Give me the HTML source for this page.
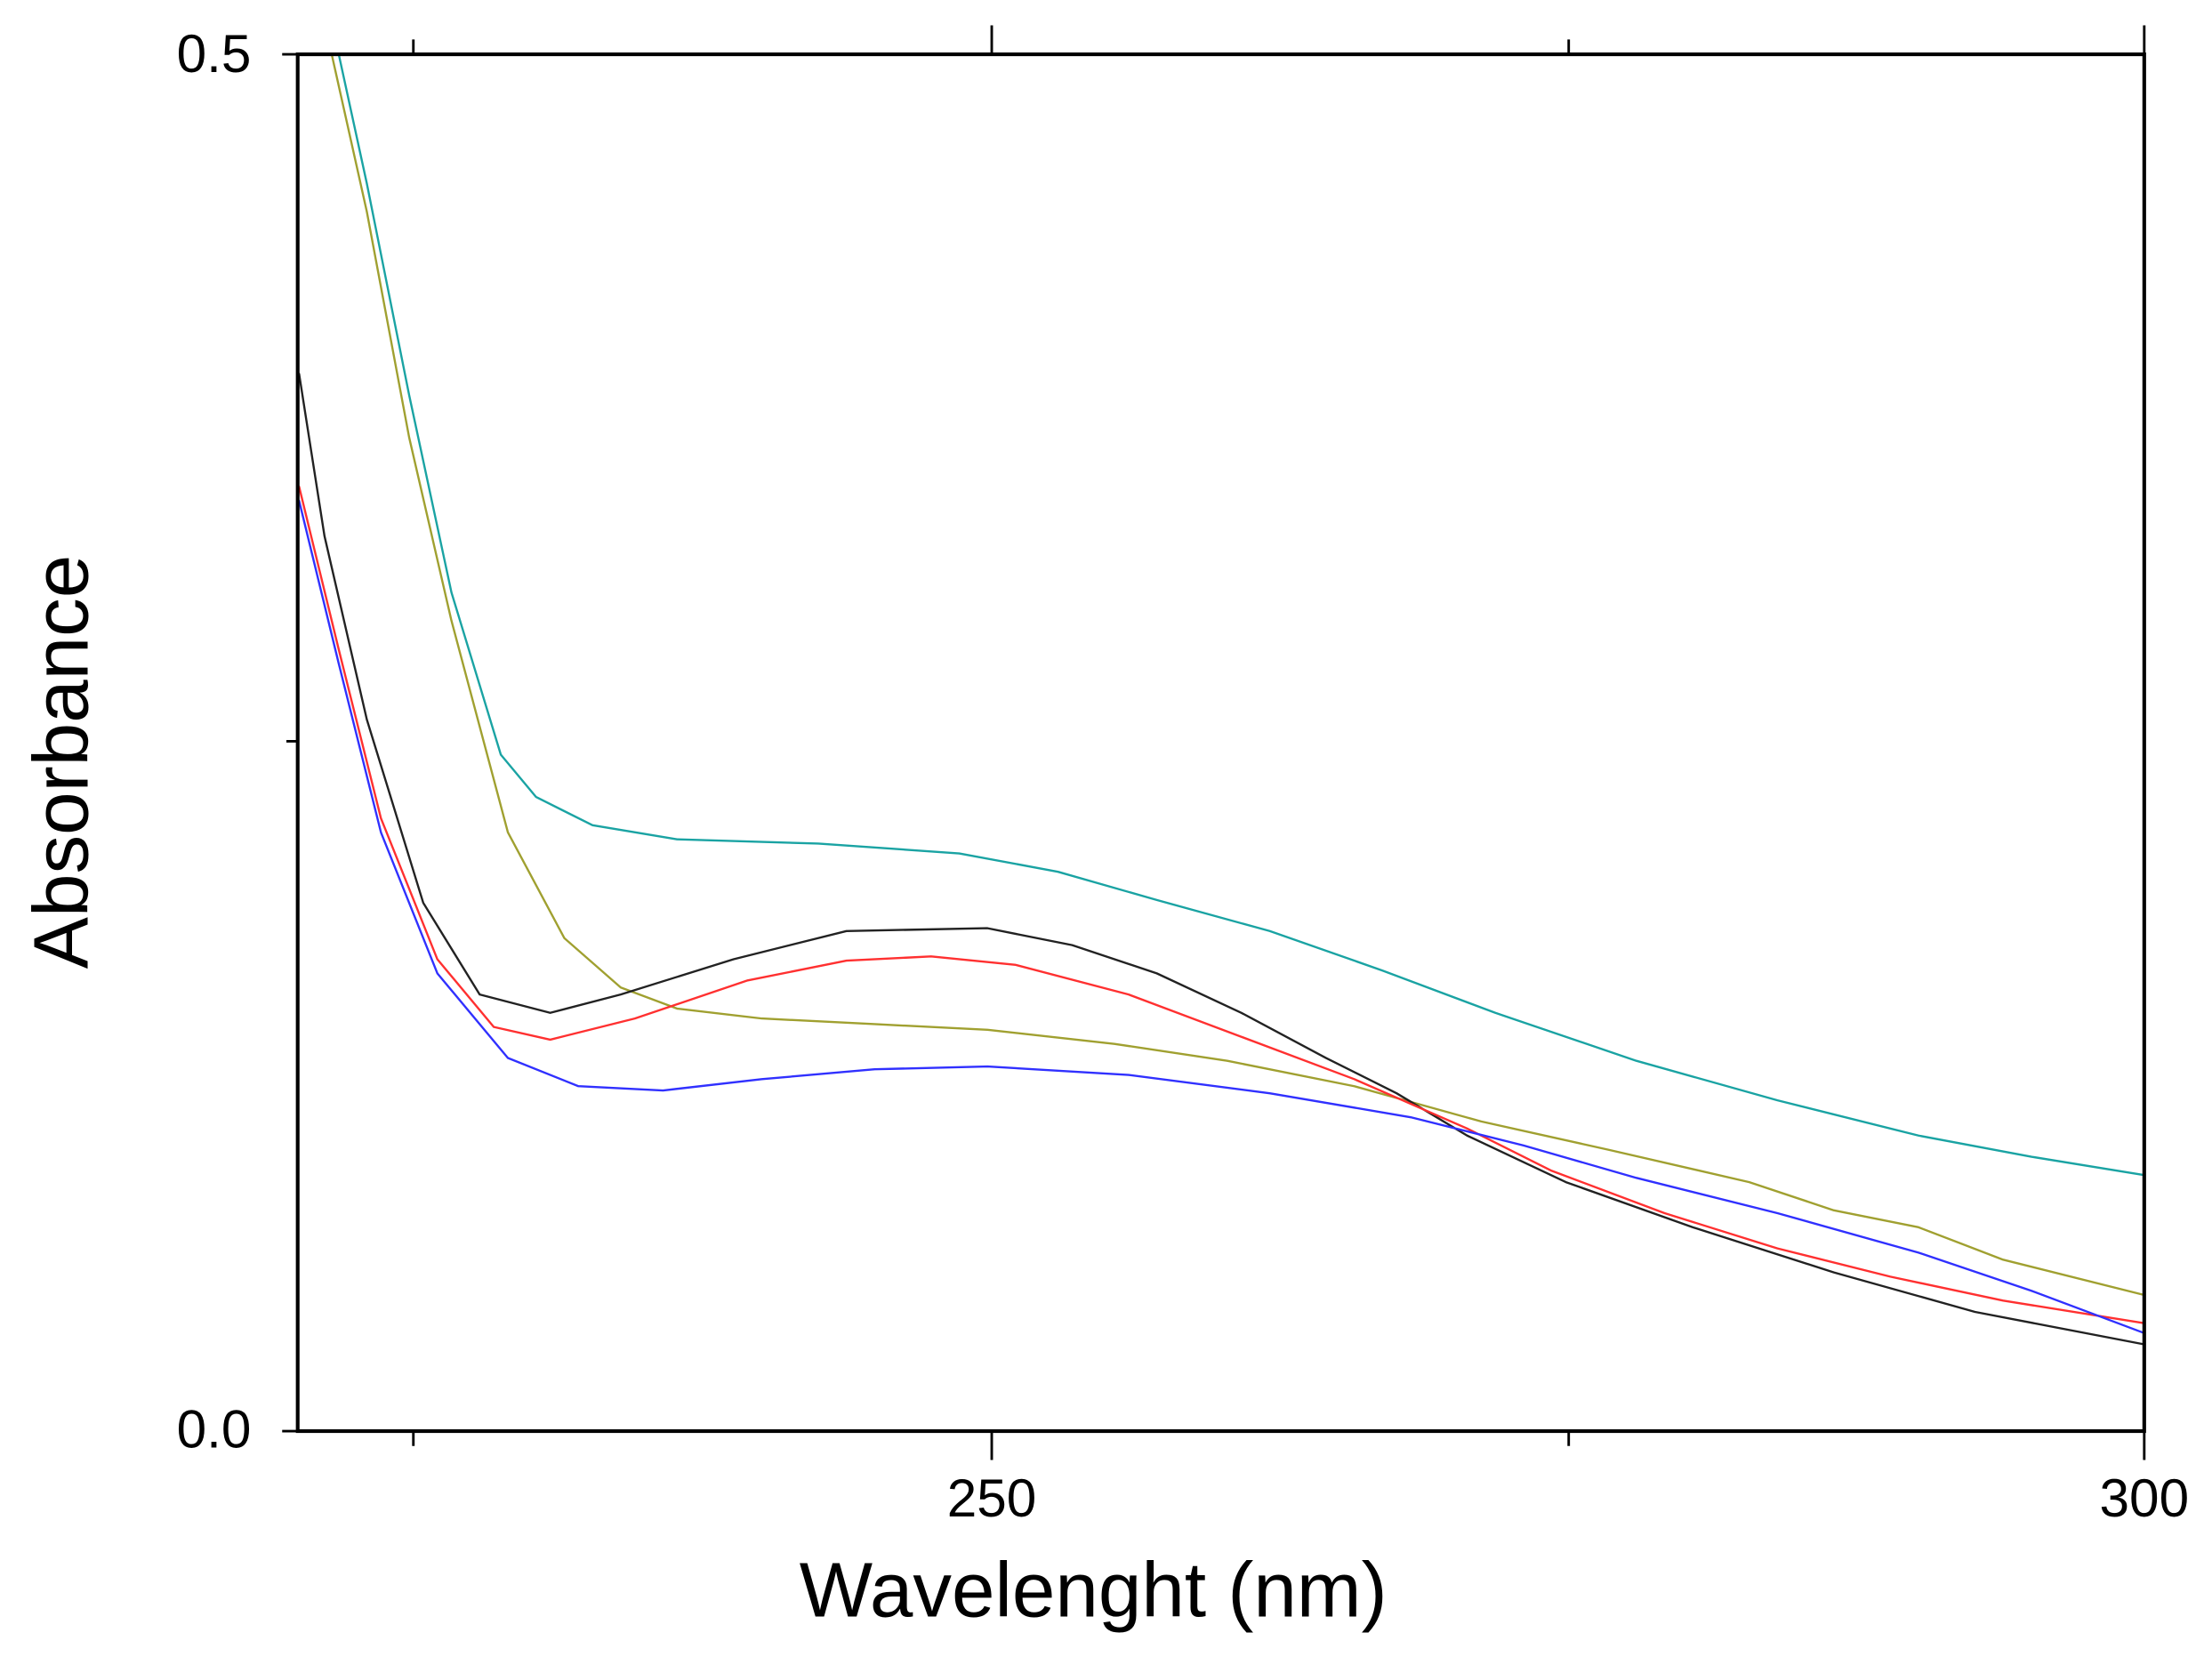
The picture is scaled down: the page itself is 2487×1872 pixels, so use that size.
<!DOCTYPE html>
<html><head><meta charset="utf-8"><style>html,body{margin:0;padding:0;background:#fff}svg{display:block}</style></head>
<body>
<svg width="2487" height="1872" viewBox="0 0 1568 1180.3" xmlns="http://www.w3.org/2000/svg" font-family="Liberation Sans, Arial, sans-serif">
<rect width="1568" height="1181" fill="#fff"/>
<g fill="none" stroke-linejoin="round" stroke-linecap="round" stroke-width="1.5">
<polyline stroke="#1aa3a3" points="240,38 260,130 290,280 320,420 355,535 380,565 420,585 480,595 580,598 680,605 750,618 820,638 900,660 980,688 1060,718 1160,752 1260,780 1360,805 1440,820 1520,833"/>
<polyline stroke="#a0a030" points="235,38 260,150 290,310 320,440 360,590 400,665 440,700 480,715 540,722 620,726 700,730 790,740 870,752 960,770 1050,795 1140,815 1240,838 1300,858 1360,870 1420,893 1520,918"/>
<polyline stroke="#222" points="212,265 230,380 260,510 300,640 340,705 390,718 440,705 520,680 600,660 700,658 760,670 820,690 880,718 940,750 990,775 1040,805 1110,838 1200,870 1300,902 1400,930 1520,953"/>
<polyline stroke="#ff3030" points="212,345 240,460 270,580 310,680 350,728 390,737 450,722 530,695 600,681 660,678 720,684 800,705 880,735 960,765 1040,800 1100,830 1180,860 1260,885 1340,905 1420,922 1520,938"/>
<polyline stroke="#3030ff" points="212,355 240,470 270,590 310,690 360,750 410,770 470,773 540,765 620,758 700,756 800,762 900,775 1000,792 1080,812 1160,835 1260,860 1360,888 1440,915 1520,945"/>
</g>
<g stroke="#000" fill="none">
<rect x="211" y="38.5" width="1309" height="976" stroke-width="2.6"/>
<path stroke-width="1.8" d="M293,38.5V28 M703,38.5V18 M1112,38.5V28 M1520,38.5V18 M293,1014.5V1025 M703,1014.5V1035 M1112,1014.5V1025 M1520,1014.5V1035 M211,525.5H203 M211,38.5H200 M211,1014.5H200"/>
</g>
<g fill="#000" font-size="38">
<text x="178" y="51" text-anchor="end">0.5</text>
<text x="178" y="1026" text-anchor="end">0.0</text>
<text x="703" y="1075" text-anchor="middle">250</text>
<text x="1520" y="1075" text-anchor="middle">300</text>
<text x="775" y="1146" text-anchor="middle" font-size="55">Wavelenght (nm)</text>
<text transform="translate(62,540) rotate(-90)" text-anchor="middle" font-size="55">Absorbance</text>
</g>
</svg>
</body></html>
